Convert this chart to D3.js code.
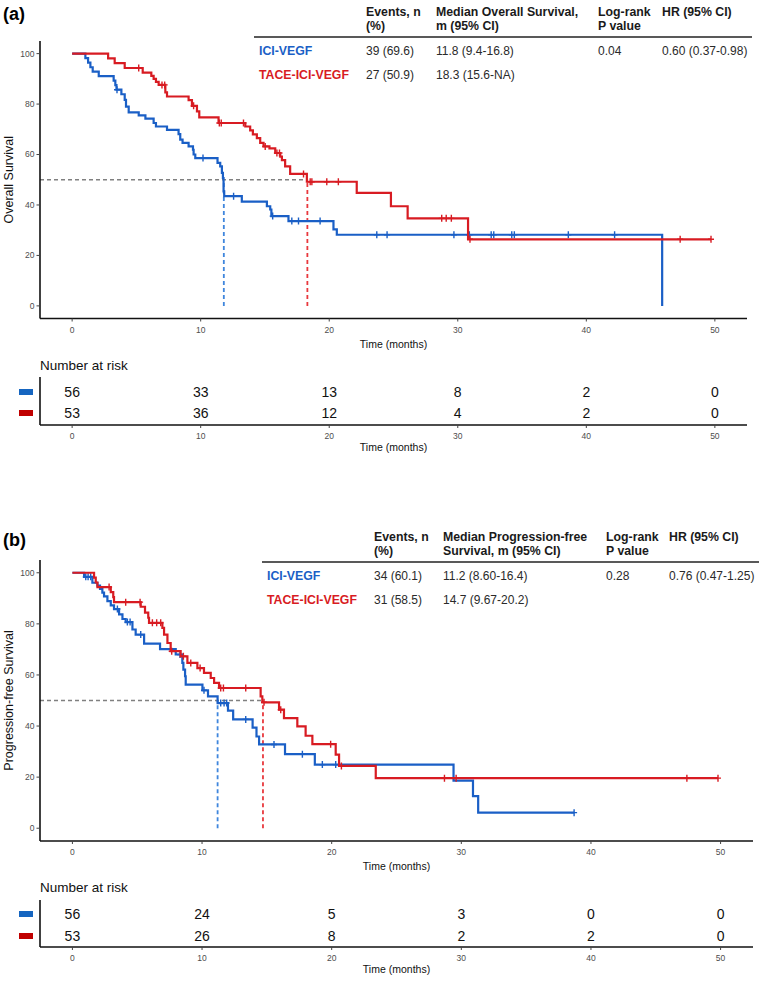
<!DOCTYPE html>
<html><head><meta charset="utf-8">
<script src="https://cdn.jsdelivr.net/npm/d3@7"></script>
<style>
body{margin:0;background:#fff;}
svg{display:block;font-family:"Liberation Sans",Arial,sans-serif;}
</style></head><body>
<svg id="c" width="763" height="981"></svg>
<script>
// ---------------- DATA ----------------
const groups = ["ICI-VEGF", "TACE-ICI-VEGF"];
const xTicks = [0, 10, 20, 30, 40, 50];
const yTicks = [0, 20, 40, 60, 80, 100];

// (a) Overall survival, ICI-VEGF
const osBlueTime = [0,1.03,1.24,1.42,1.6,2.07,3.23,3.36,3.45,3.83,4.09,4.19,4.4,5.18,5.7,6.34,6.52,7.38,8.28,8.41,8.59,9.06,9.4,9.45,9.58,11.31,11.52,11.65,11.73,11.78,11.83,13.2,15.15,15.41,15.5,16.83,20.33,20.59,45.9];
const osBlueSurv = [100,98.2,96.4,94.6,92.9,91.1,89.3,87.5,85.7,83.9,81.7,79.0,76.7,75.5,74.2,72.5,71.1,69.8,68.1,65.9,64.6,63.2,61.9,60.0,58.6,56.7,55.3,52.7,50.7,45.4,43.5,41.3,39.5,38.2,35.6,33.6,30.3,28.2,0];
const osBlueCensor = [3.49,10.18,12.56,15.6,17.09,17.61,19.29,23.7,24.5,29.7,30.9,32.6,32.8,34.2,34.4,38.6,42.2];
// (a) Overall survival, TACE-ICI-VEGF
const osRedTime = [0,2.8,3.31,4.09,5.49,6.16,6.34,6.52,6.73,7.25,7.38,9.06,9.32,9.71,9.89,11.39,13.47,13.85,14.06,14.37,14.63,14.89,15.35,15.8,16.19,16.32,16.57,16.96,18.26,22.14,24.8,26.1,30.8];
const osRedSurv = [100,98.1,96.2,94.3,92.5,91.2,90.0,88.8,87.6,84.6,83.0,81.6,79.3,77.1,74.7,72.5,71.1,69.6,68.0,66.5,64.6,63.2,62.4,60.6,59.2,57.8,55.3,52.3,49.2,44.8,39.5,34.7,26.4];
const osRedCensor = [5.18,6.99,7.2,9.45,11.45,11.6,13.33,15.02,15.93,16.13,18.0,18.52,18.65,19.81,20.71,28.75,29.1,29.5,30.95,47.3,49.7];
const osMedians = [11.8, 18.3];
const osRiskBlue = [56, 33, 13, 8, 2, 0];
const osRiskRed = [53, 36, 12, 4, 2, 0];
const osHeader = [["Events, n", "(%)"], ["Median Overall Survival,", "m (95% CI)"], ["Log-rank", "P value"], ["HR (95% CI)"]];
const osEvents = ["39 (69.6)", "27 (50.9)"];
const osMedianText = ["11.8 (9.4-16.8)", "18.3 (15.6-NA)"];
const osPValue = "0.04";
const osHR = "0.60 (0.37-0.98)";

// (b) Progression-free survival, ICI-VEGF
const pfsBlueTime = [0,0.9,1.54,1.93,2.13,2.31,2.44,2.7,2.96,3.21,3.6,3.86,4.11,4.63,4.88,5.53,6.76,7.97,8.48,8.56,8.69,8.74,10.03,10.46,11.2,12.0,12.4,13.9,14.2,14.4,16.4,18.7,29.4,30.9,31.3];
const pfsBlueSurv = [100,98.4,96.1,95.0,93.7,92.2,90.8,88.9,87.2,85.8,83.7,81.9,80.7,77.8,75.8,72.3,70.1,68.0,64.7,62.1,59.5,56.2,54.0,51.6,49.0,46.0,42.6,39.4,35.9,32.8,29.0,24.9,18.6,12.6,6.1];
const pfsBlueCensor = [1.03,1.21,1.41,3.47,4.24,4.45,5.27,8.3,10.15,11.44,11.7,11.9,13.37,15.55,17.74,19.28,20.31,38.7];
// (b) Progression-free survival, TACE-ICI-VEGF
const pfsRedTime = [0,1.67,1.8,1.93,2.96,3.15,3.21,5.27,5.6,5.85,5.91,6.94,7.07,7.33,7.58,8.35,8.87,9.64,10.15,10.67,10.93,11.31,14.52,14.65,15.94,16.32,17.35,17.99,18.51,20.31,20.57,23.4];
const pfsRedSurv = [100,98.1,96.2,94.4,92.4,90.5,88.5,86.7,84.4,82.4,80.4,78.4,75.8,72.5,69.3,67.3,64.7,62.7,60.8,58.8,56.9,54.9,51.6,49.3,46.4,43.1,39.9,36.2,32.9,28.8,24.4,19.6];
const pfsRedCensor = [2.83,4.11,5.22,6.17,6.5,6.81,7.66,8.56,9.13,9.85,11.44,11.65,13.37,14.78,16.07,19.92,20.75,28.7,29.6,47.4,49.8];
const pfsMedians = [11.2, 14.7];
const pfsRiskBlue = [56, 24, 5, 3, 0, 0];
const pfsRiskRed = [53, 26, 8, 2, 2, 0];
const pfsHeader = [["Events, n", "(%)"], ["Median Progression-free", "Survival, m (95% CI)"], ["Log-rank", "P value"], ["HR (95% CI)"]];
const pfsEvents = ["34 (60.1)", "31 (58.5)"];
const pfsMedianText = ["11.2 (8.60-16.4)", "14.7 (9.67-20.2)"];
const pfsPValue = "0.28";
const pfsHR = "0.76 (0.47-1.25)";

// ---------------- STYLE ----------------
const BLUE = "#1a5fc6", RED = "#d81b22";
const BLUE_SW = "#1565c0", RED_SW = "#c00000";
const BLUE_MED = "#3f86dd", RED_MED = "#e8383d";

const svg = d3.select("#c");

function stepValue(times, surv, t) {
  let v = surv[0];
  for (let i = 0; i < times.length; i++) { if (times[i] <= t) v = surv[i]; }
  return v;
}

function panel(cfg) {
  const g = svg.append("g");
  const x = d3.scaleLinear().domain([-2.5, 52.5]).range([40, cfg.xRight]);
  const y = d3.scaleLinear().domain([-5, 105]).range([cfg.plotBottom, cfg.plotTop]);

  // label
  g.append("text").attr("x", 3).attr("y", cfg.labelY).attr("font-size", 18).attr("font-weight", "bold").text(cfg.label);

  // table
  const t = cfg.table;
  t.header.forEach((lines, ci) => {
    lines.forEach((ln, li) => {
      g.append("text").attr("x", t.cols[ci + 1]).attr("y", t.y0 + li * 14)
        .attr("font-size", 12.3).attr("font-weight", "bold").attr("fill", "#1a1a1a").text(ln);
    });
  });
  g.append("line").attr("x1", t.ruleX1).attr("x2", t.ruleX2).attr("y1", t.y0 + 21).attr("y2", t.y0 + 21)
    .attr("stroke", "#222").attr("stroke-width", 1.4);
  const rowsY = [t.y0 + 39, t.y0 + 63];
  groups.forEach((gname, i) => {
    g.append("text").attr("x", t.cols[0]).attr("y", rowsY[i]).attr("font-size", 12.3).attr("font-weight", "bold")
      .attr("fill", i === 0 ? BLUE : RED).text(gname);
    g.append("text").attr("x", t.cols[1]).attr("y", rowsY[i]).attr("font-size", 12).attr("fill", "#2a2a2a").text(t.events[i]);
    g.append("text").attr("x", t.cols[2]).attr("y", rowsY[i]).attr("font-size", 12).attr("fill", "#2a2a2a").text(t.medianText[i]);
  });
  g.append("text").attr("x", t.cols[3]).attr("y", rowsY[0]).attr("font-size", 12).attr("fill", "#2a2a2a").text(t.p);
  g.append("text").attr("x", t.cols[4]).attr("y", rowsY[0]).attr("font-size", 12).attr("fill", "#2a2a2a").text(t.hr);

  // median lines
  const medY = 50;
  const maxMed = d3.max(cfg.medians);
  g.append("line").attr("x1", x(-2.5)).attr("x2", x(maxMed)).attr("y1", y(medY)).attr("y2", y(medY))
    .attr("stroke", "#808080").attr("stroke-width", 1.3).attr("stroke-dasharray", "4,3");
  cfg.medians.forEach((m, i) => {
    g.append("line").attr("x1", x(m)).attr("x2", x(m)).attr("y1", y(0)).attr("y2", y(medY))
      .attr("stroke", i === 0 ? BLUE_MED : RED_MED).attr("stroke-width", 1.8).attr("stroke-dasharray", "4,3");
  });

  // curves
  const line = d3.line().x(d => x(d[0])).y(d => y(d[1])).curve(d3.curveStepAfter);
  cfg.series.forEach(s => {
    const pts = s.time.map((tt, i) => [tt, s.surv[i]]);
    const end = Math.max(d3.max(s.time), d3.max(s.censor));
    pts.push([end, s.surv[s.surv.length - 1]]);
    g.append("path").attr("d", line(pts)).attr("fill", "none").attr("stroke", s.color)
      .attr("stroke-width", 2.2).attr("stroke-linejoin", "miter");
    s.censor.forEach(c => {
      const cx = x(c), cy = y(stepValue(s.time, s.surv, c));
      g.append("path").attr("d", `M${cx - 3},${cy}h6M${cx},${cy - 3.5}v7`)
        .attr("stroke", s.color).attr("stroke-width", 1.4).attr("fill", "none");
    });
  });

  // axes
  const ax = g.append("g").attr("stroke", "#111").attr("stroke-width", 1.6);
  ax.append("line").attr("x1", 40).attr("x2", 40).attr("y1", cfg.plotTop).attr("y2", cfg.plotBottom);
  ax.append("line").attr("x1", 40).attr("x2", cfg.xRight).attr("y1", cfg.plotBottom).attr("y2", cfg.plotBottom);
  yTicks.forEach(v => {
    g.append("line").attr("x1", 36.5).attr("x2", 40).attr("y1", y(v)).attr("y2", y(v)).attr("stroke", "#444").attr("stroke-width", 1);
    g.append("text").attr("x", 34.5).attr("y", y(v)).attr("dy", "0.35em").attr("text-anchor", "end")
      .attr("font-size", 8.5).attr("fill", "#4d4d4d").text(v);
  });
  xTicks.forEach(v => {
    g.append("line").attr("x1", x(v)).attr("x2", x(v)).attr("y1", cfg.plotBottom).attr("y2", cfg.plotBottom + 3).attr("stroke", "#444").attr("stroke-width", 1);
    g.append("text").attr("x", x(v)).attr("y", cfg.plotBottom + 14).attr("text-anchor", "middle")
      .attr("font-size", 8.5).attr("fill", "#4d4d4d").text(v);
  });
  g.append("text").attr("x", (40 + cfg.xRight) / 2).attr("y", cfg.plotBottom + 29).attr("text-anchor", "middle")
    .attr("font-size", 10.5).attr("fill", "#111").text("Time (months)");
  g.append("text").attr("transform", `translate(13,${(cfg.plotTop + cfg.plotBottom) / 2}) rotate(-90)`)
    .attr("text-anchor", "middle").attr("font-size", 12.5).attr("fill", "#111").text(cfg.yTitle);

  // risk table
  const r = cfg.risk;
  g.append("text").attr("x", 40).attr("y", r.titleY).attr("font-size", 13.5).attr("fill", "#111").text("Number at risk");
  const rows = [r.blue, r.red];
  rows.forEach((vals, i) => {
    const ry = r.rowY[i];
    g.append("rect").attr("x", 19).attr("y", ry - 3).attr("width", 14).attr("height", 6)
      .attr("fill", i === 0 ? BLUE_SW : RED_SW);
    vals.forEach((v, j) => {
      g.append("text").attr("x", x(xTicks[j])).attr("y", ry).attr("dy", "0.36em").attr("text-anchor", "middle")
        .attr("font-size", 14).attr("fill", "#111").text(v);
    });
  });
  const rax = g.append("g").attr("stroke", "#111").attr("stroke-width", 1.6);
  rax.append("line").attr("x1", 40).attr("x2", 40).attr("y1", r.axisTop).attr("y2", r.axisBottom);
  rax.append("line").attr("x1", 40).attr("x2", cfg.xRight).attr("y1", r.axisBottom).attr("y2", r.axisBottom);
  xTicks.forEach(v => {
    g.append("line").attr("x1", x(v)).attr("x2", x(v)).attr("y1", r.axisBottom).attr("y2", r.axisBottom + 3).attr("stroke", "#444").attr("stroke-width", 1);
    g.append("text").attr("x", x(v)).attr("y", r.axisBottom + 14).attr("text-anchor", "middle")
      .attr("font-size", 8.5).attr("fill", "#4d4d4d").text(v);
  });
  g.append("text").attr("x", (40 + cfg.xRight) / 2).attr("y", r.axisBottom + 26).attr("text-anchor", "middle")
    .attr("font-size", 10.5).attr("fill", "#111").text("Time (months)");
}

panel({
  label: "(a)", labelY: 20, xRight: 747, plotTop: 41, plotBottom: 318.5,
  yTitle: "Overall Survival", medians: osMedians,
  series: [
    { time: osBlueTime, surv: osBlueSurv, censor: osBlueCensor, color: BLUE },
    { time: osRedTime, surv: osRedSurv, censor: osRedCensor, color: RED }
  ],
  table: { y0: 16, cols: [259, 366, 436, 598, 662], ruleX1: 254, ruleX2: 752,
    header: osHeader, events: osEvents, medianText: osMedianText, p: osPValue, hr: osHR },
  risk: { titleY: 370, rowY: [392, 413], axisTop: 377, axisBottom: 425, blue: osRiskBlue, red: osRiskRed }
});

panel({
  label: "(b)", labelY: 546, xRight: 753, plotTop: 560, plotBottom: 841,
  yTitle: "Progression-free Survival", medians: pfsMedians,
  series: [
    { time: pfsBlueTime, surv: pfsBlueSurv, censor: pfsBlueCensor, color: BLUE },
    { time: pfsRedTime, surv: pfsRedSurv, censor: pfsRedCensor, color: RED }
  ],
  table: { y0: 541, cols: [267, 374, 443, 606, 669], ruleX1: 262, ruleX2: 759,
    header: pfsHeader, events: pfsEvents, medianText: pfsMedianText, p: pfsPValue, hr: pfsHR },
  risk: { titleY: 892, rowY: [914, 936], axisTop: 900, axisBottom: 947, blue: pfsRiskBlue, red: pfsRiskRed }
});
</script>
</body></html>
